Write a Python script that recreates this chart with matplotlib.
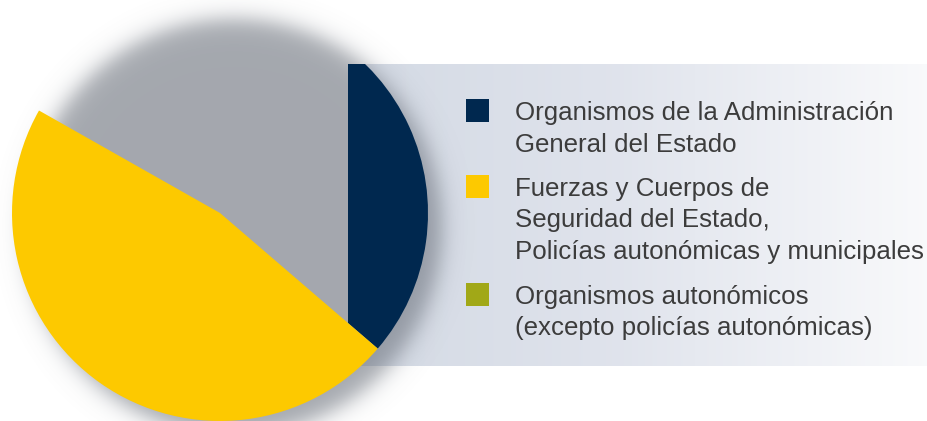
import numpy as np
import matplotlib
matplotlib.use("Agg")
import matplotlib.pyplot as plt
from matplotlib.patches import Rectangle

# share of each group (percent)
labels = [
    "Organismos de la Administración\nGeneral del Estado",
    "Fuerzas y Cuerpos de\nSeguridad del Estado,\nPolicías autonómicas y municipales",
    "Organismos autonómicos\n(excepto policías autonómicas)",
]
shares = [36.3, 46.9, 16.8]
colors = ["#00284f", "#fdc900", "#a1a817"]

W, H = 928, 421


def Y(y):
    # picture rows (top down) -> axis units (bottom up)
    return H - y


fig = plt.figure(figsize=(W / 100, H / 100), dpi=100)
ax = fig.add_axes([0, 0, 1, 1])

# light panel behind the legend, fading to white on the right
px0, py0, py1 = 348, 64, 366
xs = np.linspace(0, 1, 400)
left = np.array([0.83, 0.855, 0.895])
mid = np.array([0.875, 0.89, 0.925])
right = np.array([0.975, 0.978, 0.985])
grad = np.where(xs[:, None] < 0.45,
                left + (mid - left) * (xs[:, None] / 0.45),
                mid + (right - mid) * ((xs[:, None] - 0.45) / 0.55))
ax.imshow(grad[None, :, :], extent=(px0, W, Y(py1), Y(py0)), aspect="auto", zorder=1)

# soft shadow of the pie
cx, cy, R = 220, 213, 208
gx, gy = np.meshgrid(np.arange(W) + 0.5, np.arange(H) + 0.5)
r = np.hypot(gx - (cx + 14), gy - (cy + 14))
alpha = 0.62 / (1 + np.exp((r - R) / 6.5))
shadow = np.zeros((H, W, 4))
shadow[..., 0] = 108 / 255
shadow[..., 1] = 114 / 255
shadow[..., 2] = 124 / 255
shadow[..., 3] = alpha
ax.imshow(shadow, extent=(0, W, 0, H), origin="upper", aspect="auto", zorder=2)

wedges, _ = ax.pie(shares, colors=colors, startangle=90, counterclock=False,
                   center=(cx, Y(cy)), radius=R, frame=True,
                   wedgeprops=dict(linewidth=0))
for w in wedges:
    w.set_zorder(3)
# the first wedge only shows over the panel, the last is hidden by the shadow
clip = Rectangle((px0, Y(py1)), W - px0, py1 - py0, transform=ax.transData)
wedges[0].set_clip_on(True)
wedges[0].set_clip_path(clip)
wedges[2].set_facecolor("none")

# legend
box_top = [99, 175, 283]
for lab, col, top in zip(labels, colors, box_top):
    ax.add_patch(Rectangle((466, Y(top + 23)), 23, 23, color=col, zorder=4, linewidth=0))
    for i, line in enumerate(lab.split("\n")):
        ax.text(515, Y(top + 21 + i * 31.5), line, fontsize=18.6, family="Liberation Sans",
                color="#3c3c3c", va="baseline", ha="left", zorder=5)

ax.set_xlim(0, W)
ax.set_ylim(0, H)
ax.set_aspect("auto")
ax.axis("off")

fig.savefig("out.png", dpi=100, facecolor="white")
